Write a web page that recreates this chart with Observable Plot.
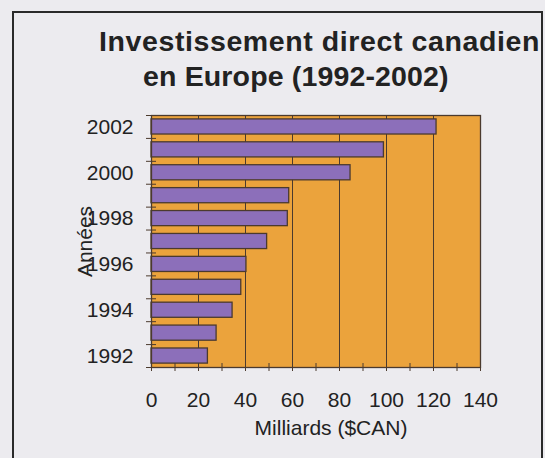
<!DOCTYPE html>
<html>
<head>
<meta charset="utf-8">
<script src="https://cdn.jsdelivr.net/npm/d3@7"></script>
<script src="https://cdn.jsdelivr.net/npm/@observablehq/plot@0.6"></script>
<style>
  html, body { margin: 0; padding: 0; }
  body { width: 545px; height: 458px; background: #ecebef; position: relative; overflow: hidden;
         font-family: "Liberation Sans", Arial, Helvetica, sans-serif; color: #222; }
  #frame { position: absolute; left: 12px; top: 11px; width: 527px; height: 470px; border: 2px solid #2a2a2a; overflow: hidden; }
  .t { position: absolute; white-space: nowrap; }
  .title { font-weight: bold; font-size: 28.5px; line-height: 28.5px; color: #222; }
  #chart { position: absolute; left: 0; top: 0; }
</style>
</head>
<body>
<div id="chart"></div>
<div id="frame">
  <div class="t title" style="left:85px; top:14px; letter-spacing:0.6px;">Investissement direct canadien</div>
  <div class="t title" style="left:129px; top:49px; letter-spacing:0.15px;">en Europe (1992-2002)</div>
</div>
<div class="t" style="left:0; width:662px; text-align:center; top:417px; font-size:21px; line-height:21px;">Milliards ($CAN)</div>
<script>
const years = [1992, 1993, 1994, 1995, 1996, 1997, 1998, 1999, 2000, 2001, 2002];
const values = [24, 27.7, 34.5, 38.2, 40.4, 49.2, 58, 58.6, 84.7, 98.9, 121.3];
const yearLabels = [1992, 1994, 1996, 1998, 2000, 2002];
const xTicks = [0, 20, 40, 60, 80, 100, 120, 140];
const xMinorTicks = [0, 10, 20, 30, 40, 50, 60, 70, 80, 90, 100, 110, 120, 130, 140];
const yBoundaries = [1991.5, 1992.5, 1993.5, 1994.5, 1995.5, 1996.5, 1997.5, 1998.5, 1999.5, 2000.5, 2001.5, 2002.5];
const gridValues = [20, 40, 60, 80, 100, 120];

const data = years.map((y, i) => ({year: y, value: values[i]}));

const orange = "#eba33c";
const purple = "#8c6fba";
const dark = "#4b3a2e";

const chart = Plot.plot({
  width: 545,
  height: 458,
  marginLeft: 151,
  marginRight: 65,
  marginTop: 115,
  marginBottom: 91,
  style: {background: "transparent", fontFamily: "'Liberation Sans', Arial, sans-serif", fontSize: "21px", color: "#222"},
  x: {domain: [0, 140]},
  y: {domain: [1991.5, 2002.5]},
  marks: [
    Plot.frame({fill: orange}),
    Plot.ruleX(gridValues, {stroke: dark, strokeWidth: 1}),
    Plot.rectX(data, {x1: 0, x2: "value", y1: d => d.year - 0.33, y2: d => d.year + 0.33, fill: purple, stroke: dark, strokeWidth: 1.3}),
    Plot.frame({stroke: dark, strokeWidth: 1.3}),
    Plot.ruleX(xMinorTicks, {x: d => d, y1: 1991.5, y2: 1991.5, insetTop: -4, insetBottom: -4, stroke: dark}),
    Plot.ruleY(yBoundaries, {y: d => d, x1: 0, x2: 0, insetLeft: -5, insetRight: -5, stroke: dark}),
    Plot.axisX({ticks: xTicks, tickSize: 0, tickPadding: 25, tickFormat: d => String(d), label: null}),
    Plot.axisY({ticks: yearLabels, tickSize: 0, tickPadding: 18, tickFormat: d => String(d), label: null}),
    Plot.text(["Années"], {frameAnchor: "left", textAnchor: "middle", lineAnchor: "middle", rotate: -90, dx: -66, text: d => d, fontSize: 21, fill: "#222"})
  ]
});
document.getElementById("chart").appendChild(chart);
</script>
</body>
</html>
